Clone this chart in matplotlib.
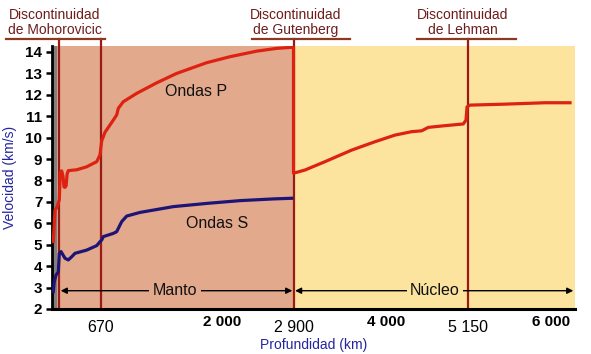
import numpy as np
import matplotlib
matplotlib.use('Agg')
import matplotlib.pyplot as plt

plt.rcParams['font.family'] = ['Liberation Sans', 'DejaVu Sans']

# ---------------- data ----------------
p_depth = [7, 16, 29, 47, 62, 83, 103, 118, 133, 150, 165, 183, 310, 461, 613, 662, 683, 719,
           810, 847, 865, 920, 1067, 1285, 1504, 1832, 2101, 2437, 2689, 2887, 2900,
           2900, 3037, 3275, 3592, 3869, 4126, 4360, 4500, 4593, 4827, 5084, 5122, 5136,
           5170, 5495, 5939, 6190]
p_vel = [5.15, 6.6, 6.8, 7.1, 8.4, 8.45, 8.2, 7.7, 7.68, 7.75, 8.3, 8.46, 8.5, 8.64, 8.88, 9.19, 9.85, 10.25,
         10.82, 11.06, 11.37, 11.68, 12.07, 12.56, 13.0, 13.5, 13.78, 14.04, 14.17, 14.22, 14.2,
         8.34, 8.49, 8.88, 9.42, 9.81, 10.12, 10.28, 10.32, 10.48, 10.56, 10.64, 10.82, 11.44,
         11.52, 11.56, 11.63, 11.63]

s_depth = [7, 12, 22, 34, 47, 73, 133, 183, 235, 284, 461, 613, 662, 683, 701, 810, 847, 902,
           957, 1103, 1467, 1832, 2227, 2646, 2877]
s_vel = [2.81, 3.27, 3.59, 3.74, 4.6, 4.68, 4.37, 4.29, 4.44, 4.6, 4.75, 4.96, 5.14, 5.22, 5.38,
         5.53, 5.61, 6.08, 6.34, 6.51, 6.78, 6.93, 7.06, 7.14, 7.17]

disc_depths = [35, 670, 2900, 5150]
disc_labels = ['Discontinuidad\nde Mohorovicic', 'Discontinuidad\nde Gutenberg', 'Discontinuidad\nde Lehman']
disc_label_depths = [35, 2900, 5150]
xtick_regular = [670, 2900, 5150]
xtick_regular_labels = ['670', '2 900', '5 150']
xtick_bold = [2000, 4000, 6000]
xtick_bold_labels = ['2 000', '4 000', '6 000']
yticks = list(range(2, 15))
layers = ['Manto', 'Núcleo']
layer_ranges = [(68, 2885), (2918, 6223)]
layer_label_depths = [1486, 4687]

# schematic (non-linear) depth axis of the original drawing: depth -> position
axis_depth = np.array([0, 35, 670, 2000, 2900, 4000, 5150, 6000, 6400], float)
axis_pos = np.array([0, 6.5, 48.5, 170, 241.5, 334, 416, 499, 539], float)

def fwd(d):
    return np.interp(d, axis_depth, axis_pos)

def inv(p):
    return np.interp(p, axis_pos, axis_depth)

# ---------------- style ----------------
W, H = 591, 354
ax_l, ax_b, ax_w, ax_h = 52, 45, 523, 263
mantle_col = '#E2A98D'
core_col = '#FCE49F'
crust_col = '#7F7F7F'
p_col = '#DD2211'
s_col = '#1E1475'
line_col = '#9B1A14'
ann_text_col = '#6E1C1C'
ann_line_col = '#8B3A1E'
blue_lab = '#2424A0'

fig = plt.figure(figsize=(W / 100, H / 100), dpi=100)
ax = fig.add_axes([ax_l / W, ax_b / H, ax_w / W, ax_h / H])
ax.set_xscale('function', functions=(fwd, inv))
xmax = inv(523)
ax.set_xlim(0, xmax)
ax.set_ylim(2, 14.28)

# background zones
ax.axvspan(0, 28, color=crust_col, lw=0, zorder=0)
ax.axvspan(28, 2900, color=mantle_col, lw=0, zorder=0)
ax.axvspan(2900, xmax, color=core_col, lw=0, zorder=0)

# discontinuity lines (extend up to the annotation underline)
for d in disc_depths:
    ax.plot([d, d], [0, 1.0266], transform=ax.get_xaxis_transform(), color=line_col,
            lw=1.6, clip_on=False, zorder=2)

# curves
ax.plot(p_depth, p_vel, color=p_col, lw=2.3, solid_joinstyle='round', zorder=4)
ax.plot(s_depth, s_vel, color=s_col, lw=2.3, solid_joinstyle='round', zorder=4)

ax.text(1721, 12.14, 'Ondas P', ha='center', va='center', fontsize=11.5, color='#111111')
ax.text(1951, 6.0, 'Ondas S', ha='center', va='center', fontsize=11.5, color='#111111')

# layer arrows
arrow_v = 2.854
bgs = [mantle_col, core_col]
for (a, b), name, c, bg in zip(layer_ranges, layers, layer_label_depths, bgs):
    ax.annotate('', xy=(a, arrow_v), xytext=(b, arrow_v),
                arrowprops=dict(arrowstyle='<|-|>', color='black', lw=1.0,
                                mutation_scale=9, shrinkA=0, shrinkB=0), zorder=5)
    ax.text(c, arrow_v, name, ha='center', va='center', fontsize=11.5, color='#111111',
            bbox=dict(facecolor=bg, edgecolor='none', pad=2.5), zorder=6)

# spines / ticks
for s in ['top', 'right']:
    ax.spines[s].set_visible(False)
ax.spines['left'].set_linewidth(2)
ax.spines['bottom'].set_linewidth(2.2)
ax.set_yticks(yticks)
ax.set_yticklabels([str(v) for v in yticks], fontweight='bold', fontsize=11)
ax.tick_params(axis='y', length=4, width=1.8, pad=3)

ax.set_xticks(xtick_regular)
ax.set_xticklabels(xtick_regular_labels, fontsize=11.5)
ax.set_xticks(xtick_bold, minor=True)
ax.set_xticklabels(xtick_bold_labels, minor=True, fontweight='bold', fontsize=11)
ax.tick_params(axis='x', which='major', length=0, pad=8)
ax.tick_params(axis='x', which='minor', length=0, pad=4)

ax.set_ylabel('Velocidad (km/s)', color=blue_lab, fontsize=10)
ax.yaxis.set_label_coords(-35 / ax_w, 0.5)
ax.set_xlabel('Profundidad (km)', color=blue_lab, fontsize=10)
ax.xaxis.set_label_coords(0.5, -29 / ax_h)

# top annotations
text_dx = [-3.5, 2.5, -5]
line_ext = [(-52.5, 46.5), (-41.5, 56.5), (-51, 48)]
for d, lab, dx, (l0, l1) in zip(disc_label_depths, disc_labels, text_dx, line_ext):
    xf = fwd(d) / ax_w
    ax.text(xf + dx / ax_w, 1 + 23.5 / ax_h, lab, transform=ax.transAxes, ha='center',
            va='center', fontsize=10, color=ann_text_col, linespacing=1.15)
    ax.plot([xf + l0 / ax_w, xf + l1 / ax_w], [1.0266, 1.0266], transform=ax.transAxes,
            color=ann_line_col, lw=1.6, clip_on=False)

fig.savefig('out.png', dpi=100)
